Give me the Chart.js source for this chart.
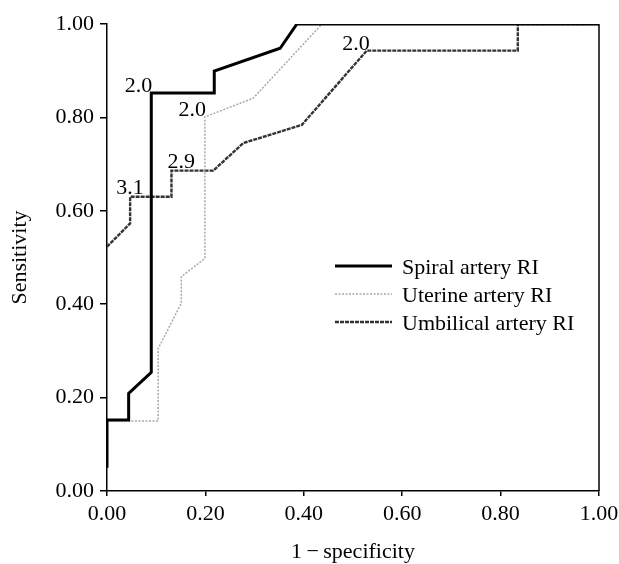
<!DOCTYPE html>
<html>
<head>
<meta charset="utf-8">
<script src="https://cdn.jsdelivr.net/npm/chart.js@4.4.1/dist/chart.umd.min.js"></script>
<style>
html,body{margin:0;padding:0;background:#fff;}
#wrap{width:619px;height:564px;position:relative;}
</style>
</head>
<body>
<div id="wrap"><canvas id="c" width="619" height="564"></canvas></div>
<script>
// ---- data ----
const seriesNames = ['Spiral artery RI', 'Uterine artery RI', 'Umbilical artery RI'];

const spiralX = [0, 0, 0.044, 0.044, 0.09, 0.09, 0.218, 0.218, 0.352, 0.386, 1.0];
const spiralY = [0.05, 0.152, 0.152, 0.209, 0.254, 0.852, 0.852, 0.899, 0.948, 1.0, 1.0];

const uterineX = [0, 0.104, 0.104, 0.151, 0.151, 0.199, 0.199, 0.297, 0.437, 1.0];
const uterineY = [0.15, 0.15, 0.305, 0.402, 0.459, 0.498, 0.801, 0.841, 1.0, 1.0];

const umbilicalX = [0, 0.047, 0.047, 0.131, 0.131, 0.216, 0.277, 0.396, 0.528, 0.835, 0.835, 1.0];
const umbilicalY = [0.523, 0.573, 0.63, 0.63, 0.686, 0.686, 0.745, 0.784, 0.943, 0.943, 1.0, 1.0];

// cut-off labels: [series index, point index, text]
const cutoffSeries = [0, 1, 2, 2, 2];
const cutoffPoint  = [5, 6, 2, 4, 8];
const cutoffText   = ['2.0', '2.0', '3.1', '2.9', '2.0'];

const xTicks = [0, 0.2, 0.4, 0.6, 0.8, 1.0];
const yTicks = [0, 0.2, 0.4, 0.6, 0.8, 1.0];

// ---- build ----
function pts(xs, ys){ return xs.map((x,i)=>({x:x, y:ys[i]})); }

const FONT = 'Liberation Serif';
Chart.defaults.font.family = FONT;
Chart.defaults.color = '#000';

const styles = [
  {borderColor:'#000', borderWidth:3, borderDash:[]},
  {borderColor:'#a8a8a8', borderWidth:1.5, borderDash:[2,1.5]},
  {borderColor:'#333', borderWidth:2.4, borderDash:[4,1]}
];

const datasets = [
  Object.assign({label: seriesNames[0], data: pts(spiralX, spiralY)}, styles[0]),
  Object.assign({label: seriesNames[1], data: pts(uterineX, uterineY)}, styles[1]),
  Object.assign({label: seriesNames[2], data: pts(umbilicalX, umbilicalY)}, styles[2])
];
datasets.forEach(d=>{ d.showLine = true; d.pointRadius = 0; d.tension = 0; d.fill = false; d.borderJoinStyle='miter'; d.borderCapStyle='butt'; });

// label offsets: [dx, dy, align]
const labelStyle = [
  [1, -1, 'right'],
  [1, -1, 'right'],
  [0, -3, 'center'],
  [-4, -3, 'left'],
  [3, -1, 'right']
];

const overlay = {
  id: 'overlay',
  afterDraw(chart){
    const ctx = chart.ctx, a = chart.chartArea;
    const xs = chart.scales.x, ys = chart.scales.y;
    ctx.save();
    // right frame line
    ctx.strokeStyle = '#000'; ctx.lineWidth = 1.5;
    ctx.beginPath(); ctx.moveTo(a.right, a.top); ctx.lineTo(a.right, a.bottom); ctx.stroke();
    // cut-off labels
    ctx.fillStyle = '#000';
    ctx.font = '22px "' + FONT + '"';
    ctx.textBaseline = 'alphabetic';
    cutoffText.forEach((t,i)=>{
      const d = datasets[cutoffSeries[i]].data[cutoffPoint[i]];
      const px = xs.getPixelForValue(d.x), py = ys.getPixelForValue(d.y);
      ctx.textAlign = labelStyle[i][2];
      ctx.fillText(t, px + labelStyle[i][0], py + labelStyle[i][1]);
    });
    // legend
    const lx0 = 335, lx1 = 392, tx = 402;
    const ly = [266, 294, 322];
    ctx.textAlign = 'left';
    datasets.forEach((d,i)=>{
      ctx.strokeStyle = d.borderColor; ctx.lineWidth = d.borderWidth;
      ctx.setLineDash(d.borderDash);
      ctx.beginPath(); ctx.moveTo(lx0, ly[i]); ctx.lineTo(lx1, ly[i]); ctx.stroke();
      ctx.setLineDash([]);
      ctx.fillText(d.label, tx, ly[i] + 7.5);
    });
    ctx.restore();
  }
};

new Chart(document.getElementById('c'), {
  type: 'scatter',
  data: {datasets},
  plugins: [overlay],
  options: {
    responsive: false,
    animation: false,
    layout: {padding: {left: 0, right: 20, top: 24, bottom: 0}},
    plugins: {legend: {display: false}, tooltip: {enabled: false}},
    scales: {
      x: {
        type: 'linear', min: 0, max: 1,
        afterBuildTicks(s){ s.ticks = xTicks.map(v=>({value:v})); },
        afterFit(s){ s.height = 73; s.paddingLeft = 0; s.paddingRight = 0; },
        ticks: {callback: v => v.toFixed(2), font: {size: 22}, padding: 5, maxRotation: 0, autoSkip: false},
        grid: {drawOnChartArea: false, drawTicks: true, tickLength: 5, color: '#000', lineWidth: 1.5},
        border: {display: true, color: '#000', width: 1.5},
        title: {display: true, text: '1\u2009\u2212\u2009specificity', font: {size: 22}, padding: {top: 0, bottom: -1}}
      },
      y: {
        type: 'linear', min: 0, max: 1,
        afterBuildTicks(s){ s.ticks = yTicks.map(v=>({value:v})); },
        afterFit(s){ s.width = 107; s.paddingTop = 0; s.paddingBottom = 0; },
        ticks: {callback: v => v.toFixed(2), font: {size: 22}, padding: 6, autoSkip: false},
        grid: {drawOnChartArea: false, drawTicks: true, tickLength: 7, color: '#000', lineWidth: 1.5},
        border: {display: true, color: '#000', width: 1.5},
        title: {display: true, text: 'Sensitivity', font: {size: 22}, padding: {top: 7, bottom: 0}}
      }
    }
  }
});
</script>
</body>
</html>
